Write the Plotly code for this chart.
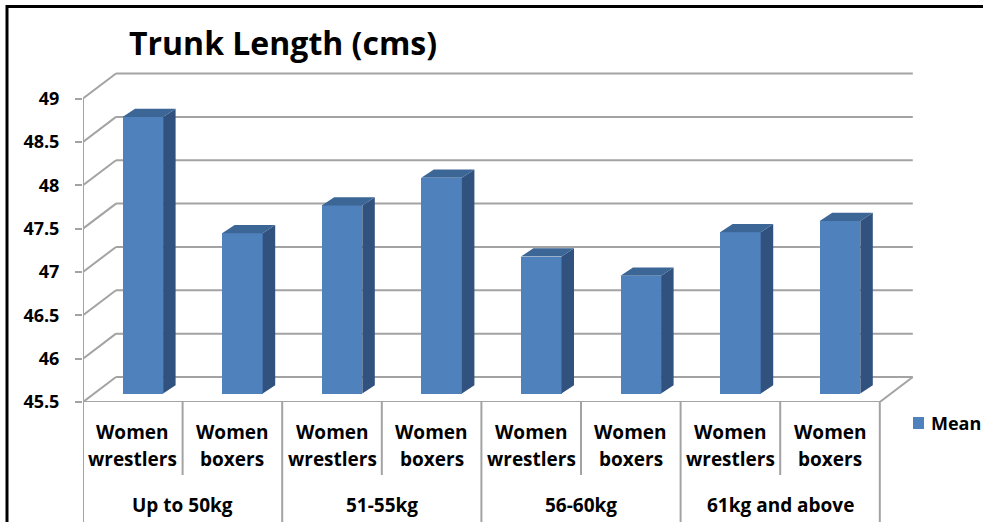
import plotly.graph_objects as go

# ---------------- data ----------------
groups = ["Up to 50kg", "51-55kg", "56-60kg", "61kg and above"]
subcats = ["Women wrestlers", "Women boxers"]
mean_values = [48.69, 47.35, 47.67, 47.99, 47.08, 46.86, 47.36, 47.49]
y_ticks = [45.5, 46, 46.5, 47, 47.5, 48, 48.5, 49]
y_tick_labels = ["45.5", "46", "46.5", "47", "47.5", "48", "48.5", "49"]
series_name = "Mean"
title_text = "Trunk Length (cms)"

# ---------------- layout geometry ----------------
W, H = 983, 522
ML, MR, MT, MB = 83, 63, 68, 120
PW, PH = W - ML - MR, H - MT - MB
PX_CAT = 99.6     # pixels per category
PX_UNIT = 86.7    # pixels per value unit
YMIN = y_ticks[0]
x_range = [-0.5, -0.5 + PW / PX_CAT]
y_range = [YMIN, YMIN + PH / PX_UNIT]

# oblique "3D" offsets (in data units)
DXB, DYB = 33 / PX_CAT, 25 / PX_UNIT       # back wall
DXF, DYF = 10 / PX_CAT, 8.4 / PX_UNIT      # bar front face
DXD, DYD = 12.5 / PX_CAT, 8.3 / PX_UNIT    # bar depth
BAR_W = 40.6 / PX_CAT

FRONT = "#4F81BD"
SIDE = "#31527E"
TOP = "#3C6696"
GRID = "#A3A3A3"
FONT = "Open Sans"

def pxx(p):
    return (p - ML) / PW

def pxy(p):
    return (H - MB - p) / PH

n = len(mean_values)
labels = [f"{g} | {s}" for g in groups for s in subcats]
xs = [i + DXF for i in range(n)]

fig = go.Figure()

# front faces (library bars)
fig.add_trace(go.Bar(
    x=xs, y=[v - YMIN for v in mean_values], base=YMIN + DYF,
    width=BAR_W, marker=dict(color=FRONT, line=dict(width=0)),
    name=series_name, customdata=labels, hovertext=[str(v) for v in mean_values],
    showlegend=False,
))

# side and top faces derived from the same values
side_x, side_y, top_x, top_y = [], [], [], []
for i, v in enumerate(mean_values):
    xl = i + DXF - BAR_W / 2
    xr = i + DXF + BAR_W / 2
    b = YMIN + DYF
    t = v + DYF
    side_x += [xr, xr + DXD, xr + DXD, xr, xr, None]
    side_y += [b, b + DYD, t + DYD, t, b, None]
    top_x += [xl, xr, xr + DXD, xl + DXD, xl, None]
    top_y += [t, t, t + DYD, t + DYD, t, None]

fig.add_trace(go.Scatter(x=side_x, y=side_y, mode="lines", fill="toself",
                         fillcolor=SIDE, line=dict(width=0, color=SIDE),
                         showlegend=False, hoverinfo="skip"))
fig.add_trace(go.Scatter(x=top_x, y=top_y, mode="lines", fill="toself",
                         fillcolor=TOP, line=dict(width=0, color=TOP),
                         showlegend=False, hoverinfo="skip"))

shapes = []
x0, x1 = -0.5, n - 0.5
gl = dict(color=GRID, width=2)
# back-wall gridlines and left-wall diagonals
for t in y_ticks:
    shapes.append(dict(type="line", xref="x", yref="y", layer="below",
                       x0=x0 + DXB, y0=t + DYB, x1=x1 + DXB, y1=t + DYB, line=gl))
    shapes.append(dict(type="line", xref="x", yref="y", layer="below",
                       x0=x0, y0=t, x1=x0 + DXB, y1=t + DYB, line=gl))
# floor front edge, right diagonal, front value axis
shapes.append(dict(type="line", xref="x", yref="y", layer="below",
                   x0=x0, y0=YMIN, x1=x1, y1=YMIN, line=gl))
shapes.append(dict(type="line", xref="x", yref="y", layer="below",
                   x0=x1, y0=YMIN, x1=x1 + DXB, y1=YMIN + DYB, line=gl))
shapes.append(dict(type="line", xref="x", yref="y", layer="below",
                   x0=x0, y0=YMIN, x1=x0, y1=y_ticks[-1], line=gl))
# category dividers below the axis
for k in range(n + 1):
    xb = k - 0.5
    if k % len(subcats) == 0:
        yb = pxy(530)
    else:
        yb = pxy(475)
    shapes.append(dict(type="line", xref="x", yref="paper",
                       x0=xb, x1=xb, y0=pxy(401.7), y1=yb, line=gl))
# chart border
shapes.append(dict(type="rect", xref="paper", yref="paper",
                   x0=pxx(7), y0=pxy(540), x1=pxx(995), y1=pxy(6.5),
                   line=dict(color="black", width=3)))
# legend swatch
shapes.append(dict(type="rect", xref="paper", yref="paper",
                   x0=pxx(913), y0=pxy(429), x1=pxx(924), y1=pxy(417),
                   fillcolor=FRONT, line=dict(width=0)))

annotations = []
annotations.append(dict(text=f"<b>{title_text}</b>", xref="paper", yref="paper",
                        x=pxx(283), y=pxy(43), xanchor="center", yanchor="middle",
                        showarrow=False, font=dict(family=FONT, size=32, color="black")))
annotations.append(dict(text=f"<b>{series_name}</b>", xref="paper", yref="paper",
                        x=pxx(929), y=pxy(423), xanchor="left", yanchor="middle",
                        showarrow=False, font=dict(family=FONT, size=18, color="black")))
for i in range(n):
    words = subcats[i % len(subcats)].split(" ")
    for j, w in enumerate(words):
        annotations.append(dict(text=f"<b>{w}</b>", xref="x", yref="paper",
                                x=i, y=pxy(432 + 27 * j), xanchor="center", yanchor="middle",
                                showarrow=False, font=dict(family=FONT, size=19, color="black")))
for gi, g in enumerate(groups):
    cx = gi * len(subcats) + (len(subcats) - 1) / 2
    annotations.append(dict(text=f"<b>{g}</b>", xref="x", yref="paper",
                            x=cx, y=pxy(505), xanchor="center", yanchor="middle",
                            showarrow=False, font=dict(family=FONT, size=19, color="black")))

fig.update_layout(
    width=W, height=H,
    margin=dict(l=ML, r=MR, t=MT, b=MB, autoexpand=False),
    paper_bgcolor="white", plot_bgcolor="white",
    bargap=0, barmode="overlay",
    shapes=shapes, annotations=annotations,
    showlegend=False,
    xaxis=dict(range=x_range, showgrid=False, zeroline=False, showline=False,
               showticklabels=False, ticks="", fixedrange=True, automargin=False),
    yaxis=dict(range=y_range, showgrid=False, zeroline=False, showline=False,
               tickvals=y_ticks, ticktext=[f"<b>{t}</b>" for t in y_tick_labels],
               ticks="outside", ticklen=7, tickwidth=2, tickcolor=GRID,
               ticklabelstandoff=12,
               tickfont=dict(family=FONT, size=18, color="black"),
               fixedrange=True, automargin=False),
)

fig.write_html("out.html")
